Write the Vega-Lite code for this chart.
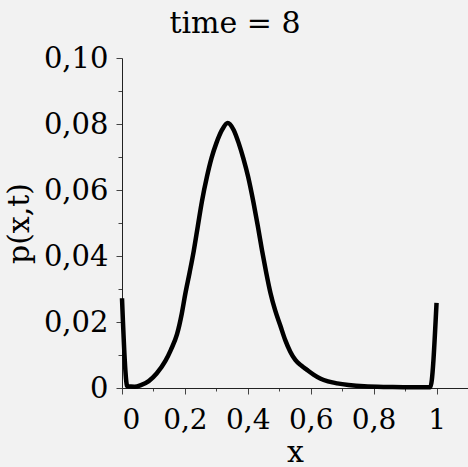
{
  "$schema": "https://vega.github.io/schema/vega-lite/v6.json",
  "autosize": "none",
  "width": 346,
  "height": 330,
  "padding": {"left": 122, "top": 58, "right": 0, "bottom": 79},
  "background": "#f2f2f2",
  "config": {"view": {"stroke": null}, "font": "DejaVu Serif"},
  "title": {"text": "time = 8", "font": "DejaVu Serif", "fontSize": 30, "fontWeight": "normal", "color": "black", "anchor": "middle", "dx": -60, "offset": 5},
  "data": {"values": [
    {"x": 0, "p": 0.0272},
    {"x": 0.017, "p": 0.0005},
    {"x": 0.04, "p": 0.0004},
    {"x": 0.06, "p": 0.0009},
    {"x": 0.085, "p": 0.0021},
    {"x": 0.11, "p": 0.0044},
    {"x": 0.138, "p": 0.0082},
    {"x": 0.155, "p": 0.0115},
    {"x": 0.175, "p": 0.0163},
    {"x": 0.19, "p": 0.0225},
    {"x": 0.201, "p": 0.0284},
    {"x": 0.215, "p": 0.035},
    {"x": 0.228, "p": 0.0415},
    {"x": 0.241, "p": 0.049},
    {"x": 0.254, "p": 0.0565},
    {"x": 0.27, "p": 0.064},
    {"x": 0.285, "p": 0.0698},
    {"x": 0.3, "p": 0.0742},
    {"x": 0.318, "p": 0.0782},
    {"x": 0.336, "p": 0.0803},
    {"x": 0.355, "p": 0.0782},
    {"x": 0.371, "p": 0.0742},
    {"x": 0.386, "p": 0.0695},
    {"x": 0.401, "p": 0.064},
    {"x": 0.418, "p": 0.0562},
    {"x": 0.432, "p": 0.049},
    {"x": 0.445, "p": 0.0418},
    {"x": 0.458, "p": 0.0352},
    {"x": 0.472, "p": 0.0288},
    {"x": 0.487, "p": 0.0235},
    {"x": 0.503, "p": 0.019},
    {"x": 0.519, "p": 0.0145},
    {"x": 0.535, "p": 0.011},
    {"x": 0.551, "p": 0.0085},
    {"x": 0.57, "p": 0.0068},
    {"x": 0.588, "p": 0.0055},
    {"x": 0.61, "p": 0.004},
    {"x": 0.63, "p": 0.0029},
    {"x": 0.655, "p": 0.002},
    {"x": 0.684, "p": 0.0014},
    {"x": 0.72, "p": 0.0009},
    {"x": 0.77, "p": 0.0005},
    {"x": 0.85, "p": 0.0003},
    {"x": 0.92, "p": 0.0002},
    {"x": 0.98, "p": 0.0002},
    {"x": 1.0, "p": 0.0258}
  ]},
  "mark": {"type": "line", "color": "black", "strokeWidth": 4.5, "clip": false, "interpolate": "monotone"},
  "encoding": {
    "x": {
      "field": "x", "type": "quantitative",
      "scale": {"domain": [0, 1.1], "nice": false, "zero": false},
      "axis": {
        "title": "x",
        "values": [0, 0.1, 0.2, 0.3, 0.4, 0.5, 0.6, 0.7, 0.8, 0.9, 1],
        "labelExpr": "round(datum.value*100) % 20 != 0 ? '' : (datum.value == 0 ? '0' : (datum.value == 1 ? '1' : replace(format(datum.value, '.1f'), '.', ',')))",
        "labelOverlap": false,
        "labelFont": "DejaVu Serif", "labelFontSize": 28, "labelColor": "black",
        "labelPadding": 12,
        "titleFont": "DejaVu Serif", "titleFontSize": 30, "titleFontWeight": "normal", "titleColor": "black",
        "titlePadding": 3,
        "grid": false,
        "domainColor": "#222222", "domainWidth": 1,
        "tickColor": "#444444", "tickWidth": 1,
        "tickSize": {"condition": {"test": "round(datum.value*100) % 20 == 0", "value": 6}, "value": 3}
      }
    },
    "y": {
      "field": "p", "type": "quantitative",
      "scale": {"domain": [0, 0.1], "nice": false},
      "axis": {
        "title": "p(x,t)",
        "values": [0, 0.01, 0.02, 0.03, 0.04, 0.05, 0.06, 0.07, 0.08, 0.09, 0.1],
        "labelExpr": "round(datum.value*1000) % 20 != 0 ? '' : (datum.value == 0 ? '0' : replace(format(datum.value, '.2f'), '.', ','))",
        "labelOverlap": false,
        "labelFont": "DejaVu Serif", "labelFontSize": 29, "labelColor": "black",
        "labelPadding": 8,
        "titleFont": "DejaVu Serif", "titleFontSize": 30, "titleFontWeight": "normal", "titleColor": "black",
        "titlePadding": 9,
        "grid": false,
        "domainColor": "#222222", "domainWidth": 1,
        "tickColor": "#444444", "tickWidth": 1,
        "tickSize": {"condition": {"test": "round(datum.value*1000) % 20 == 0", "value": 6}, "value": 4}
      }
    }
  }
}
